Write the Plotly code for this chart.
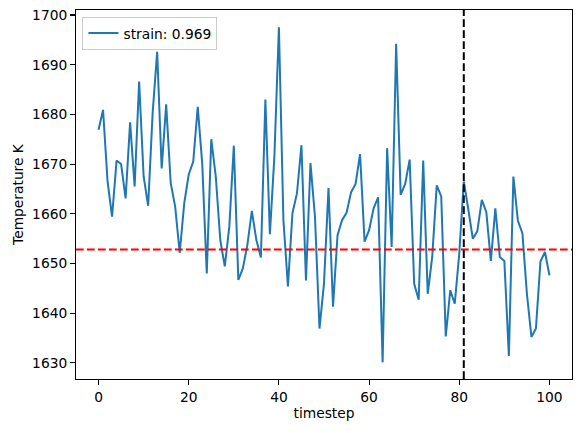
import plotly.graph_objects as go

timesteps = list(range(101))
temperature = [
    1676.9, 1680.9, 1666.5, 1659.4, 1670.7, 1670.0, 1663.1, 1678.4, 1665.5, 1686.6,
    1667.5, 1661.6, 1680.3, 1692.6, 1669.1, 1682.0, 1666.2, 1661.4, 1652.1, 1662.1,
    1667.9, 1670.5, 1681.5, 1670.0, 1648.0, 1675.0, 1667.5, 1654.7, 1649.4, 1657.4,
    1673.7, 1646.7, 1649.0, 1653.7, 1660.6, 1654.7, 1651.2, 1683.0, 1655.9, 1671.6,
    1697.5, 1658.7, 1645.4, 1660.1, 1664.1, 1673.8, 1646.6, 1670.2, 1659.4, 1636.9,
    1646.0, 1665.2, 1641.3, 1655.7, 1658.7, 1660.2, 1664.3, 1666.0, 1672.0, 1654.4,
    1656.7, 1661.1, 1663.3, 1630.1, 1673.2, 1653.3, 1694.2, 1663.8, 1666.0, 1670.9,
    1645.9, 1642.7, 1670.7, 1643.9, 1651.3, 1665.7, 1663.5, 1635.3, 1644.6, 1641.9,
    1652.0, 1666.5, 1660.9, 1655.0, 1656.5, 1662.8, 1660.3, 1650.5, 1661.1, 1651.3,
    1650.5, 1631.4, 1667.5, 1658.6, 1656.1, 1643.9, 1635.2, 1636.9, 1650.4, 1652.3,
    1647.6,
]
series_label = "strain: 0.969"
reference_temperature = 1652.8
marker_timestep = 81

x_ticks = [0, 20, 40, 60, 80, 100]
y_ticks = [1630, 1640, 1650, 1660, 1670, 1680, 1690, 1700]

FONT = "DejaVu Sans"
FS = 13.8

fig = go.Figure()
fig.add_trace(go.Scatter(
    x=timesteps, y=temperature, mode="lines", name=series_label,
    line=dict(color="#1f77b4", width=2.0),
))
fig.add_hline(y=reference_temperature, line=dict(color="red", width=2.0, dash="7.7px,3.3px"))
fig.add_vline(x=marker_timestep, line=dict(color="black", width=2.0, dash="7.7px,3.3px"))

axis_common = dict(
    showline=True, linecolor="black", linewidth=1.1, mirror=True,
    ticks="outside", ticklen=4.9, tickwidth=1.1, tickcolor="black",
    showgrid=False, zeroline=False, automargin=False,
    tickfont=dict(family=FONT, size=FS, color="black"),
)

fig.update_layout(
    width=581, height=433,
    margin=dict(l=75.5, r=9.3, t=10, b=53.7, autoexpand=False),
    paper_bgcolor="white", plot_bgcolor="white",
    font=dict(family=FONT, size=FS, color="black"),
    showlegend=True,
    legend=dict(
        x=0.013, y=0.982, xanchor="left", yanchor="top",
        bgcolor="rgba(255,255,255,0.8)", bordercolor="#cccccc", borderwidth=1,
        font=dict(family=FONT, size=FS, color="black"),
        itemwidth=30, tracegroupgap=0,
    ),
    xaxis=dict(
        range=[-5, 105], tickvals=x_ticks,
        title=dict(text="timestep", font=dict(family=FONT, size=FS), standoff=4),
        **axis_common,
    ),
    yaxis=dict(
        range=[1626.75, 1701.0], tickvals=y_ticks,
        title=dict(text="Temperature K", font=dict(family=FONT, size=FS), standoff=5),
        **axis_common,
    ),
)

fig.write_html(
    "out.html",
    config={"displayModeBar": False, "staticPlot": True},
    post_script="document.body.style.margin='0';document.body.style.overflow='hidden';",
)
